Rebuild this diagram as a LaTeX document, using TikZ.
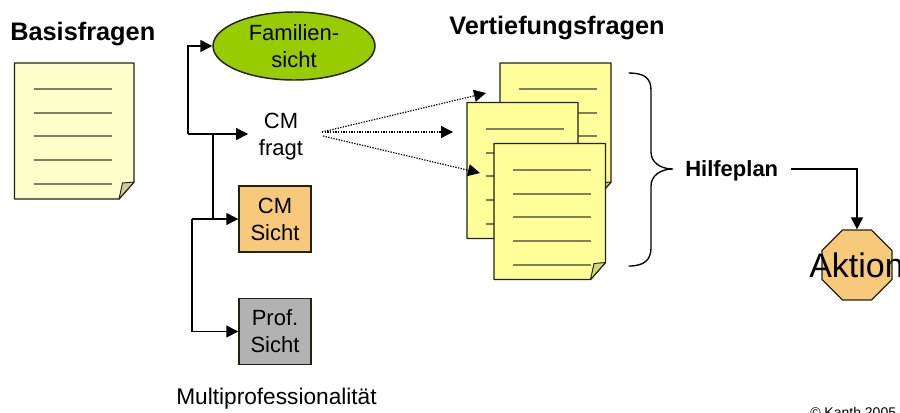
\documentclass[tikz,border=0pt]{standalone}
\usepackage{fontspec}
\setmainfont{Liberation Sans}
\usetikzlibrary{arrows.meta,shapes.geometric}
\definecolor{paleyellow}{HTML}{FFFFCC}
\definecolor{docyellow}{HTML}{FFFF99}
\definecolor{foldpale}{HTML}{CCCC99}
\definecolor{folddoc}{HTML}{D6D67A}
\definecolor{leaf}{HTML}{99CC00}
\definecolor{apricot}{HTML}{F6C97B}
\definecolor{midgrey}{HTML}{B2B2B2}
\definecolor{rulecol}{HTML}{7F7F60}
\definecolor{edgecol}{HTML}{222211}
\tikzset{
  x=0.75pt,y=-0.75pt,
  conn/.style={draw=black,line width=1.1pt},
  tip/.style={-{Triangle[length=9pt,width=9pt]}},
  dots/.style={draw=black,line width=0.9pt,dash pattern=on 1pt off 1pt,-{Triangle[length=9pt,width=9pt]}},
  head/.style={font=\fontsize{19}{23}\selectfont\bfseries,inner sep=0pt},
  sub/.style={font=\fontsize{16.5}{20.3}\selectfont,align=center,inner sep=0pt},
  boxnode/.style={draw=edgecol,line width=1.1pt,minimum width=54pt,minimum height=49.5pt,inner sep=0pt,font=\fontsize{16.5}{20.3}\selectfont,align=center},
}
% sheet: width #5, top-left at (#2,#3), fill #4, fold #6
\newcommand{\sheet}[6]{%
  \begin{scope}[shift={(#2,#3)}]
    \path[draw=edgecol,fill=#4,line width=1.1pt,line join=round] (0,0) -- (#5,0) -- (#5,119) -- (#5-15,136) -- (0,136) -- cycle;
    \path[draw=edgecol,fill=#6,line width=0.7pt,line join=round] (#5,119) -- (#5-11.5,120) -- (#5-15,136) -- cycle;
    \foreach \yy in {26,50,73,97,121}
      \draw[rulecol,line width=1.5pt] (19,\yy) -- (97,\yy);
    \coordinate (#1) at (#5/2,68);
  \end{scope}}
\begin{document}
\begin{tikzpicture}
\useasboundingbox (0,0) rectangle (900,412);
\clip (0,0) rectangle (900,412);

\node[head,anchor=west] (basis) at (10,33.5) {Basisfragen};
\node[head,anchor=west] (vert) at (449,27.5) {Vertiefungsfragen};

\sheet{docbase}{14.5}{63}{paleyellow}{119.5}{foldpale}
\sheet{docback}{500}{63}{docyellow}{111}{folddoc}
\sheet{docmid}{467}{102.5}{docyellow}{111}{folddoc}
\sheet{docfront}{494}{143.5}{docyellow}{111.5}{folddoc}

\node[ellipse,draw=edgecol,fill=leaf,line width=1.1pt,minimum width=121.5pt,minimum height=51pt,inner sep=0pt,sub] (fam) at (294,46) {Familien-\\sicht};
\node[sub,inner sep=8pt] (fragt) at (281,136.5) {CM\\fragt};
\node[boxnode,fill=apricot] (cmsicht) at (275,219) {CM\\Sicht};
\node[boxnode,fill=midgrey] (prof) at (275,331.5) {Prof.\\Sicht};
\node[font=\fontsize{17}{20}\selectfont,inner sep=0pt] (multi) at (276.5,398.5) {Multiprofessionalität};

\coordinate (j1) at (188,134);
\coordinate (j2) at (213,134);
\coordinate (j3) at (213,219);
\coordinate (j4) at (192,219);
\draw[conn,tip] (j1) |- (fam.west);
\draw[conn,tip] (j1) -- (j1 -| fragt.west);
\draw[conn] (j2) -- (j3);
\draw[conn,tip] (j4) -- (cmsicht.west);
\draw[conn,tip] (j4) |- (prof.west);

\coordinate (d1) at (322,132);
\coordinate (d3) at (323,136);
\coordinate (e1) at (486,93);
\coordinate (e2) at (453,132);
\coordinate (e3) at (480,173);
\draw[dots] (d1) -- (e1);
\draw[dots] (d1) -- (e2);
\draw[dots] (d3) -- (e3);

\draw[conn,line width=1pt,line cap=round] (629,73) .. controls (644,73) and (651,78) .. (651,90)
  -- (651,152) .. controls (651,162) and (660,169) .. (673,169)
  .. controls (660,169) and (651,176) .. (651,186)
  -- (651,248) .. controls (651,260) and (644,266) .. (629,266);

\node[head,font=\fontsize{16.5}{20}\selectfont\bfseries,anchor=west,inner sep=0pt] (hilfe) at (685,171) {Hilfeplan};
\node[regular polygon,regular polygon sides=8,draw=edgecol,fill=apricot,line width=0.9pt,minimum size=56.8pt,inner sep=0pt] (stop) at (857,265) {};
\node[font=\fontsize{25.5}{30}\selectfont,inner sep=0pt,anchor=west] (aktion) at (809,265) {Aktion};
\coordinate (h1) at (791,169);
\draw[conn,tip] (h1) -| (stop.north);

\node[font=\fontsize{10.5}{12}\selectfont,inner sep=0pt,anchor=base west] (copy) at (810,417) {© Kanth 2005};
\end{tikzpicture}
\end{document}
